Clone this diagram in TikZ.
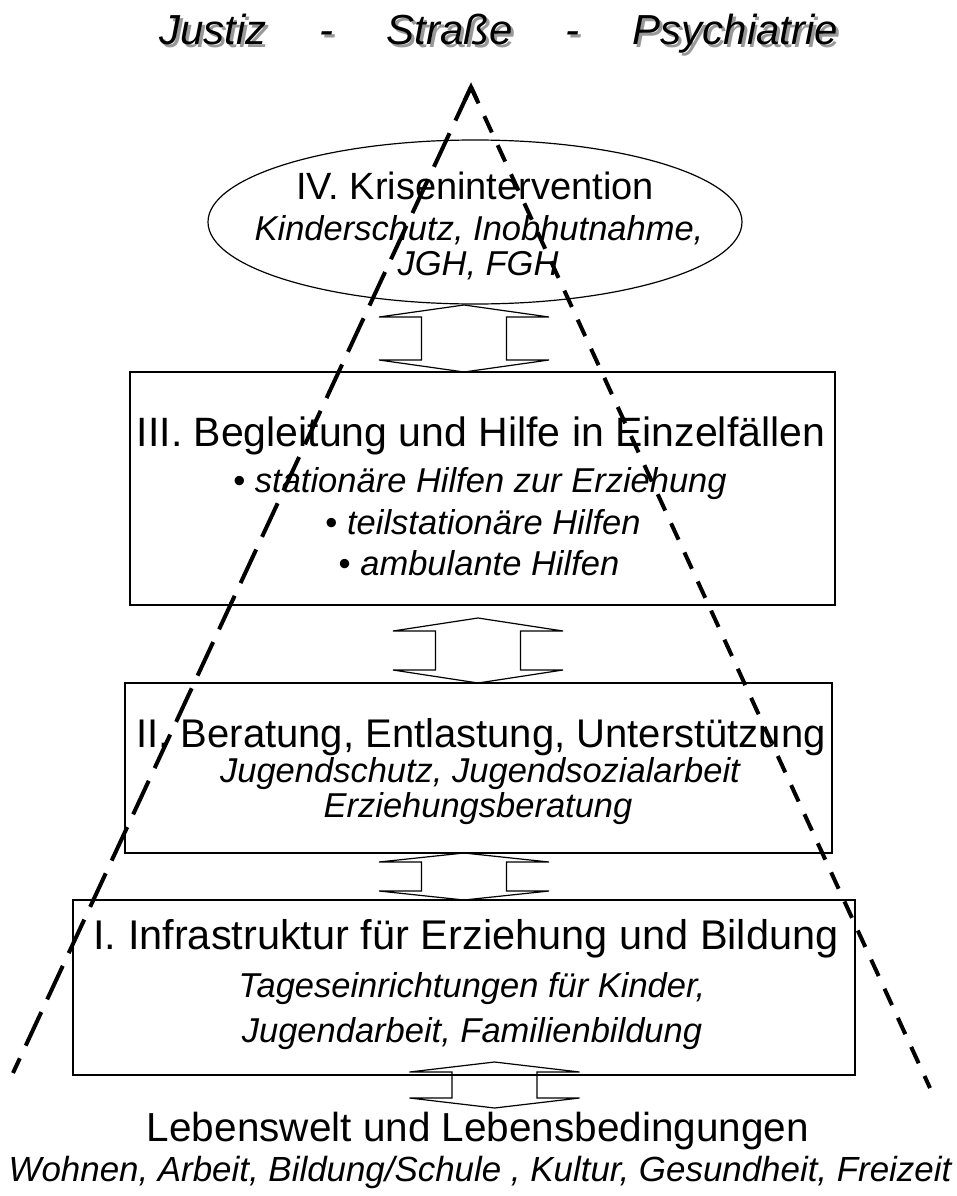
\documentclass[tikz,border=0pt]{standalone}
\usepackage{fontspec}
\setmainfont{Liberation Sans}
\usetikzlibrary{shapes.geometric,calc}
\newcommand\dblarrow[4]{% cx, ytop, ybot, head length
  \draw[dblarr] (#1,#2) -- (#1+85,#2+#4) -- (#1+42.5,#2+#4) -- (#1+42.5,#3-#4)
    -- (#1+85,#3-#4) -- (#1,#3) -- (#1-85,#3-#4) -- (#1-42.5,#3-#4)
    -- (#1-42.5,#2+#4) -- (#1-85,#2+#4) -- cycle;}
\begin{document}
\begin{tikzpicture}[x=1pt,y=-1pt,
  box/.style={draw, line width=1.2pt, inner sep=0pt},
  head/.style={font=\fontsize{40.5}{48}\selectfont, inner sep=0pt, anchor=base},
  sub/.style={font=\fontsize{34.5}{40}\selectfont\itshape, inner sep=0pt, anchor=base},
  ttl/.style={font=\fontsize{42}{48}\selectfont\itshape, inner sep=0pt, anchor=base},
  dblarr/.style={draw, line width=1.2pt, line join=miter},
  pyrL/.style={line width=4pt, dash pattern=on 37pt off 14pt},
  pyrR/.style={line width=4pt, dash pattern=on 18pt off 14pt}]
\useasboundingbox (0,0) rectangle (957,1196);

% title with shadow
\node[ttl, text=black!40] (tshadow) at (501.5,47.5) {Justiz\hspace{53pt}-\hspace{53pt}Straße\hspace{53pt}-\hspace{53pt}Psychiatrie};
\node[ttl] (title) at (499,45) {Justiz\hspace{53pt}-\hspace{53pt}Straße\hspace{53pt}-\hspace{53pt}Psychiatrie};

% ellipse
\node[draw, line width=1.2pt, ellipse, minimum width=534, minimum height=164, inner sep=0pt] (ell) at (475,222) {};
\node[head, font=\fontsize{38}{44}\selectfont] (t4a) at (475,199) {IV. Krisenintervention};
\node[sub] (t4b) at (479,240) {Kinderschutz, Inobhutnahme,};
\node[sub] (t4c) at (478,275) {JGH, FGH};

% box III
\node[box, minimum width=705, minimum height=233] (b3) at (482.5,488.5) {};
\node[head, font=\fontsize{41}{48}\selectfont] (t3a) at (481,446) {III. Begleitung und Hilfe in Einzelfällen};
\node[sub] (t3b) at (480,492) {{\upshape •} stationäre Hilfen zur Erziehung};
\node[sub] (t3c) at (483,534) {{\upshape •} teilstationäre Hilfen};
\node[sub] (t3d) at (479,575) {{\upshape •} ambulante Hilfen};

% box II
\node[box, minimum width=707, minimum height=170] (b2) at (478.5,768) {};
\node[head, font=\fontsize{40}{48}\selectfont] (t2a) at (481,747) {II. Beratung, Entlastung, Unterstützung};
\node[sub] (t2b) at (480,782) {Jugendschutz, Jugendsozialarbeit};
\node[sub] (t2c) at (478,817) {Erziehungsberatung};

% box I
\node[box, minimum width=782, minimum height=175] (b1) at (464,987.5) {};
\node[head, font=\fontsize{41.5}{48}\selectfont] (t1a) at (466,949) {I. Infrastruktur für Erziehung und Bildung};
\node[sub] (t1b) at (472,997) {Tageseinrichtungen für Kinder,};
\node[sub] (t1c) at (472,1042) {Jugendarbeit, Familienbildung};

% bottom
\node[head] (t0a) at (478,1141) {Lebenswelt und Lebensbedingungen};
\node[sub, font=\fontsize{34.9}{40}\selectfont\itshape] (t0b) at (480,1181) {Wohnen, Arbeit, Bildung/Schule , Kultur, Gesundheit, Freizeit};

% double arrows
\dblarrow{464}{305}{372}{12}
\dblarrow{478}{618}{683}{13}
\dblarrow{464}{853}{900}{9}
\dblarrow{494.5}{1062}{1108}{10}

% pyramid
\coordinate (apex) at (471,87);
\coordinate (lend) at (13,1073);
\coordinate (rend) at (930,1088);
\draw[pyrL] (apex) -- (lend);
\draw[pyrR] (apex) -- (rend);
\draw[line width=4pt, line join=miter] ($(apex)!15pt!(lend)$) -- (apex) -- ($(apex)!15pt!(rend)$);
\end{tikzpicture}
\end{document}
